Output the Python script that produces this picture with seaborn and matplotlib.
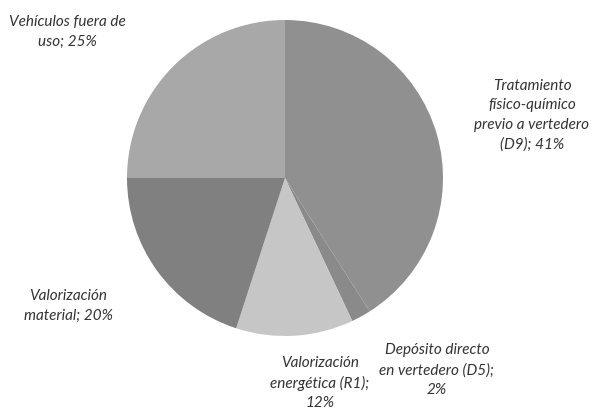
import matplotlib
matplotlib.use("Agg")
import matplotlib.pyplot as plt
import seaborn as sns

categorias = ["Tratamiento\nfísico-químico\nprevio a vertedero\n(D9); 41%",
              "Depósito directo\nen vertedero (D5);\n2%",
              "Valorización\nenergética (R1);\n12%",
              "Valorización\nmaterial; 20%",
              "Vehículos fuera de\nuso; 25%"]
valores = [41, 2, 12, 20, 25]
colores = ["#909090", "#8a8a8a", "#c6c6c6", "#808080", "#a8a8a8"]

sns.set_theme(style="white")
plt.rcParams["font.family"] = ["Lato", "DejaVu Sans"]

W, H = 605, 419
fig = plt.figure(figsize=(W / 100, H / 100), dpi=100)
cx, cy, r = 285, 178, 158
ax = fig.add_axes([(cx - r) / W, (H - cy - r) / H, 2 * r / W, 2 * r / H])
ax.pie(valores, colors=colores, startangle=90, counterclock=False,
       wedgeprops=dict(linewidth=0))
ax.set_xlim(-1, 1)
ax.set_ylim(-1, 1)
ax.set_aspect("equal")
ax.axis("off")

# label positions in pixels (centre of text block)
pos = [(532, 115), (437, 370), (320, 383), (68, 306), (67, 32)]
for texto, (px, py) in zip(categorias, pos):
    fig.text(px / W, 1 - py / H, texto, ha="center", va="center",
             fontsize=11, style="italic", color="#333333", linespacing=1.5)

fig.savefig("out.png", dpi=100, facecolor="white")
